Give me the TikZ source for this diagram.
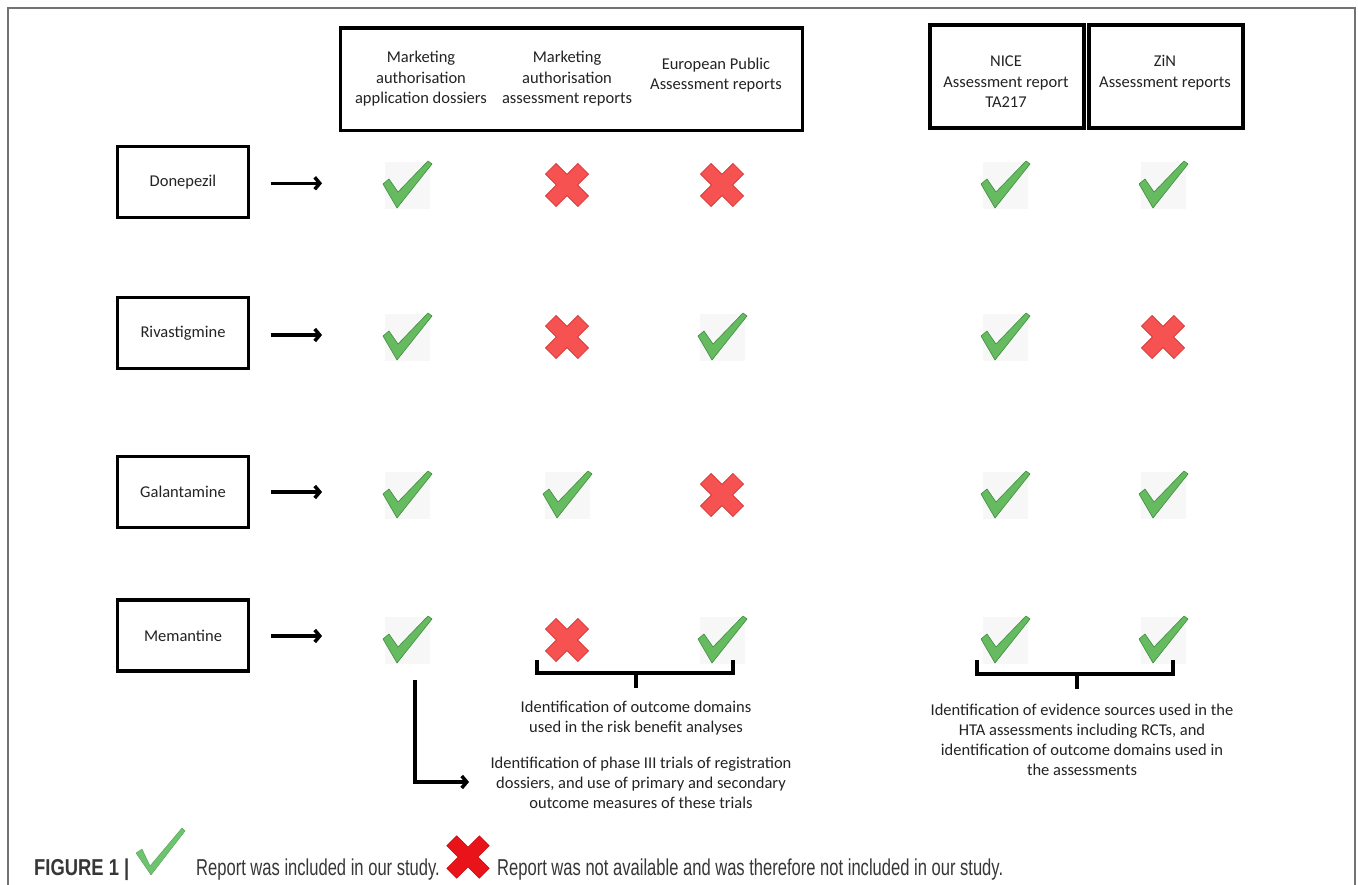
\documentclass[tikz,border=0pt]{standalone}
\usepackage{fontspec}
\setmainfont{Carlito}
\newfontfamily\capfont[FakeStretch=0.72]{Liberation Sans}
\newfontfamily\capboldfont[FakeStretch=0.8]{Liberation Sans Bold}
\usetikzlibrary{arrows.meta}

\definecolor{chkgreen}{RGB}{102,187,96}
\definecolor{chkedge}{RGB}{62,142,62}
\definecolor{xred}{RGB}{246,82,82}
\definecolor{xedge}{RGB}{206,52,52}
\definecolor{framegray}{RGB}{115,115,115}
\definecolor{iconbg}{RGB}{247,247,247}
\definecolor{capgreen}{RGB}{110,196,110}
\definecolor{capred}{RGB}{232,20,26}
\definecolor{capredge}{RGB}{190,10,15}
\definecolor{captext}{RGB}{55,55,55}
\definecolor{bodytext}{RGB}{35,35,35}

\tikzset{
  hdrbox/.style={draw, line width=3.5pt, inner sep=0pt},
  hdrtext/.style={align=center, font=\fontsize{16.5}{20.5}\selectfont, text=bodytext, inner sep=0pt},
  drugbox/.style={draw, line width=3.5pt, minimum width=131pt, minimum height=71pt, inner sep=0pt, text=bodytext, font=\fontsize{16.5}{20}\selectfont},
  rowarrow/.style={line width=3.5pt, -{Straight Barb[length=5pt,width=12pt]}},
  bracket/.style={line width=3.5pt},
  note/.style={align=center, font=\fontsize{16.5}{20}\selectfont, text=bodytext, inner sep=0pt},
  captxt/.style={anchor=base west, inner sep=0pt, text=captext, font=\capfont\fontsize{23}{26}\selectfont},
  chk/.pic={
    \fill[iconbg] (-22,-23) rectangle (23,24);
    \filldraw[fill=chkgreen, draw=chkedge, line width=0.6pt, line join=round]
      (-24,-1) -- (-18,-6) -- (-9,7) -- (21,-24) -- (25,-21) -- (-10,23) -- cycle;
  },
  crs/.pic={
    \filldraw[fill=xred, draw=xedge, line width=0.6pt, rotate=45]
      (7.5,7.5) -- (23,7.5) -- (23,-7.5) -- (7.5,-7.5) -- (7.5,-23) -- (-7.5,-23)
      -- (-7.5,-7.5) -- (-23,-7.5) -- (-23,7.5) -- (-7.5,7.5) -- (-7.5,23) -- (7.5,23) -- cycle;
  },
}

\begin{document}
\begin{tikzpicture}[x=1pt, y=-1pt]
\useasboundingbox (0,0) rectangle (1358,885);
\fill[white] (0,0) rectangle (1358,885);

% outer frame
\draw[framegray, line width=1.5pt] (8,890) -- (8,8) -- (1355,8) -- (1355,890);

% header boxes
\node[hdrbox, minimum width=462pt, minimum height=102.5pt] (hdrA) at (571.5,79.25) {};
\node[hdrbox, minimum width=154pt, minimum height=103pt] (hdrN) at (1007,76.5) {};
\node[hdrbox, minimum width=154pt, minimum height=103pt] (hdrZ) at (1166,76.5) {};

\node[hdrtext] (h1) at (421,79) {Marketing\\authorisation\\application dossiers};
\node[hdrtext] (h2) at (567,79) {Marketing\\authorisation\\assessment reports};
\node[hdrtext] (h3) at (716,75) {European Public\\Assessment reports};
\node[hdrtext] (h4) at (1006,82) {NICE\\Assessment report\\TA217};
\node[hdrtext] (h5) at (1165,72.5) {ZiN\\Assessment reports};

% drug boxes
\node[drugbox] (d1) at (183,182.2) {Donepezil};
\node[drugbox] (d2) at (183,333) {Rivastigmine};
\node[drugbox] (d3) at (183,492) {Galantamine};
\node[drugbox] (d4) at (183,635.5) {Memantine};

% row arrows
\foreach \r/\y in {1/183.3, 2/335, 3/492, 4/636} {
  \coordinate (a\r s) at (271,\y);
  \coordinate (a\r e) at (322,\y);
  \draw[rowarrow] (a\r s) -- (a\r e);
}

% icon positions
\foreach \r/\y in {1/185, 2/337, 3/495, 4/640} {
  \coordinate (r\r c1) at (407,\y);
  \coordinate (r\r c2) at (567,\y);
  \coordinate (r\r c3) at (722,\y);
  \coordinate (r\r c4) at (1005,\y);
  \coordinate (r\r c5) at (1163,\y);
}

% row 1
\pic at (r1c1) {chk}; \pic at (r1c2) {crs}; \pic at (r1c3) {crs}; \pic at (r1c4) {chk}; \pic at (r1c5) {chk};
% row 2
\pic at (r2c1) {chk}; \pic at (r2c2) {crs}; \pic at (r2c3) {chk}; \pic at (r2c4) {chk}; \pic at (r2c5) {crs};
% row 3
\pic at (r3c1) {chk}; \pic at (r3c2) {chk}; \pic at (r3c3) {crs}; \pic at (r3c4) {chk}; \pic at (r3c5) {chk};
% row 4
\pic at (r4c1) {chk}; \pic at (r4c2) {crs}; \pic at (r4c3) {chk}; \pic at (r4c4) {chk}; \pic at (r4c5) {chk};

% brackets
\coordinate (b1l) at (537,660);
\coordinate (b1r) at (733,660);
\coordinate (b1m) at (636,673);
\coordinate (b1t) at (636,688);
\draw[bracket] (b1l) -- (537,673) -- (733,673) -- (b1r);
\draw[bracket] (b1m) -- (b1t);

\coordinate (b2l) at (977,660);
\coordinate (b2r) at (1173,660);
\coordinate (b2m) at (1077,674);
\coordinate (b2t) at (1077,689);
\draw[bracket] (b2l) -- (977,674) -- (1173,674) -- (b2r);
\draw[bracket] (b2m) -- (b2t);

% notes
\node[note] (n1) at (636,718) {Identification of outcome domains\\used in the risk benefit analyses};
\node[note] (n2) at (641,783) {Identification of phase III trials of registration\\dossiers, and use of primary and secondary\\outcome measures of these trials};
\node[note] (n3) at (1082,740) {Identification of evidence sources used in the\\HTA assessments including RCTs, and\\identification of outcome domains used in\\the assessments};

% L arrow
\coordinate (ls) at (415,680);
\coordinate (le) at (469,782);
\draw[rowarrow] (ls) |- (le);

% caption
\node[captxt, font=\capboldfont\fontsize{23}{26}\selectfont] (cap0) at (34,875) {FIGURE 1 |};
\filldraw[fill=capgreen, draw=capgreen!80!black, line width=0.4pt, line join=round]
  (136,853) -- (142,849) -- (150,866) -- (182,828) -- (185,831) -- (151,875) -- cycle;
\node[captxt] (cap1) at (196,875) {Report was included in our study.};
\filldraw[fill=capred, draw=capredge, line width=0.5pt, rotate around={45:(468,857)}]
  (475,850) -- (491,850) -- (491,864) -- (475,864) -- (475,880) -- (461,880)
  -- (461,864) -- (445,864) -- (445,850) -- (461,850) -- (461,834) -- (475,834) -- cycle;
\node[captxt] (cap2) at (497,875) {Report was not available and was therefore not included in our study.};
\end{tikzpicture}
\end{document}
